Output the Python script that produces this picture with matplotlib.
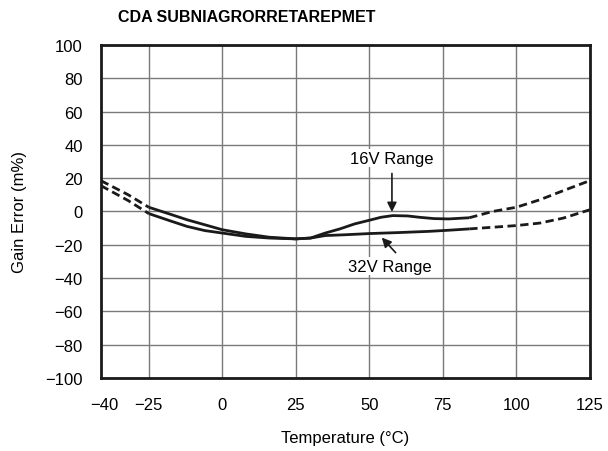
import matplotlib.pyplot as plt

# 16V range curve (solid = measured span, dashed = extrapolated ends)
t16_left = [-41.3, -32, -25]
g16_left = [18.5, 10, 2.5]
t16 = [-25, -18, -12, -6, 0, 8, 16, 25, 30, 35, 40, 45, 50, 54, 58, 63, 67, 72, 77, 84]
g16 = [2.5, -1.5, -5, -8, -11, -13.5, -15.5, -16.5, -16, -13, -10.5, -7.5, -5.3, -3.5, -2.5, -2.7, -3.5, -4.3, -4.5, -3.8]
t16_right = [84, 92, 100, 108, 116, 125]
g16_right = [-3.8, 0, 2.5, 7, 12.5, 18.5]

# 32V range curve
t32_left = [-41.3, -32, -25]
g32_left = [15.5, 6.5, -1.3]
t32 = [-25, -18, -12, -6, 0, 8, 16, 25, 30, 35, 42, 50, 60, 70, 77, 84]
g32 = [-1.3, -5.5, -9, -11.5, -13, -15, -16, -16.5, -16, -14.5, -14, -13.3, -12.7, -12, -11.3, -10.5]
t32_right = [84, 92, 100, 108, 116, 125]
g32_right = [-10.5, -9.5, -8.5, -7, -4, 1]

xticks = [-40, -25, 0, 25, 50, 75, 100, 125]
yticks = list(range(-100, 101, 20))
ytick_labels = [str(v).replace('-', '\u2212') for v in yticks]
xtick_labels = [str(v).replace('-', '\u2212') for v in xticks]

plt.rcParams['font.family'] = ['Liberation Sans', 'DejaVu Sans']

fig = plt.figure(figsize=(6.08, 4.52), dpi=100)
ax = fig.add_axes([0.166, 0.162, 0.804, 0.736])

lw = 2.0
dash = (0, (3, 1.6))
ax.plot(t16, g16, color='#1a1a1a', lw=lw, solid_capstyle='butt')
ax.plot(t16_left, g16_left, color='#1a1a1a', lw=lw, linestyle=dash)
ax.plot(t16_right, g16_right, color='#1a1a1a', lw=lw, linestyle=dash)
ax.plot(t32, g32, color='#1a1a1a', lw=lw, solid_capstyle='butt')
ax.plot(t32_left, g32_left, color='#1a1a1a', lw=lw, linestyle=dash)
ax.plot(t32_right, g32_right, color='#1a1a1a', lw=lw, linestyle=dash)

ax.set_xlim(-41.3, 125)
ax.set_ylim(-100, 100)
ax.set_xticks(xticks)
ax.set_xticklabels(xtick_labels)
ax.set_yticks(yticks)
ax.set_yticklabels(ytick_labels)
ax.grid(True, color='#7a7a7a', lw=1.0)
ax.get_xgridlines()[0].set_visible(False)  # -40 sits on the frame
ax.tick_params(length=0, labelsize=12)
ax.tick_params(axis='x', pad=14)
ax.tick_params(axis='y', pad=13)
for s in ax.spines.values():
    s.set_linewidth(2)
    s.set_color('#1a1a1a')

ax.set_xlabel('Temperature (°C)', fontsize=12, labelpad=13)
ax.set_ylabel('Gain Error (m%)', fontsize=12, labelpad=13)

ax.annotate('', xy=(57.7, -2), xytext=(57.7, 24.5),
            arrowprops=dict(arrowstyle='-|>', color='#1a1a1a', lw=1.2, mutation_scale=14))
ax.text(57.7, 32, '16V Range', fontsize=12, ha='center', va='center',
        bbox=dict(facecolor='white', edgecolor='none', pad=1))
ax.annotate('', xy=(53.6, -14.5), xytext=(59.6, -26),
            arrowprops=dict(arrowstyle='-|>', color='#1a1a1a', lw=1.2, mutation_scale=14))
ax.text(57, -33, '32V Range', fontsize=12, ha='center', va='center',
        bbox=dict(facecolor='white', edgecolor='none', pad=1))

fig.text(0.405, 0.962, 'CDA SUBNIAGRORRETAREPMET', fontsize=11.5, fontweight='bold',
         ha='center', va='center')

fig.savefig('out.png', dpi=100)
